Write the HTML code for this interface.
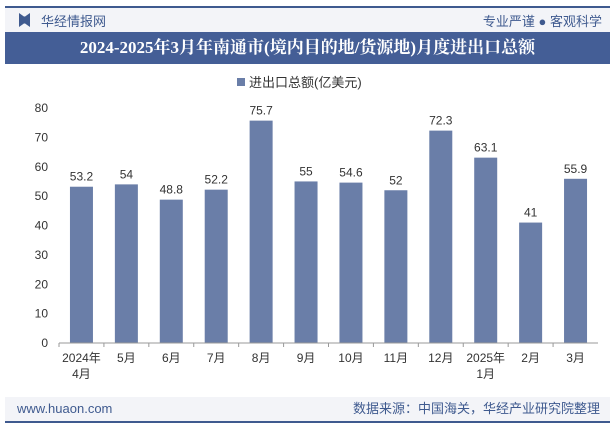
<!DOCTYPE html>
<html><head><meta charset="utf-8"><style>
body{margin:0;width:615px;height:427px;background:#fff;font-family:"Liberation Sans","Noto Sans CJK SC",sans-serif;overflow:hidden;position:relative}
.hdr{position:absolute;left:5px;top:6px;width:605px;height:26px;background:#f3f4f8;border-top:2px solid #3f5a8f}
.title{position:absolute;left:5px;top:32px;width:605px;height:32px;background:#445e96;color:#fff;font-family:"Liberation Serif","Noto Serif CJK SC",serif;font-weight:bold;font-size:17px;text-align:center;line-height:32px}
.ftr{position:absolute;left:5px;top:397px;width:605px;height:24px;background:#f3f4f8;border-bottom:2px solid #3f5a8f;color:#3f5a8f;font-size:13px;line-height:24px}
</style></head><body>
<div class="hdr">
<span style="position:absolute;left:14px;top:5px;width:11px;height:14px;background:#3f5a8f;clip-path:polygon(0 0,45% 25%,55% 25%,100% 0,100% 100%,55% 75%,45% 75%,0 100%)"></span>
<span style="position:absolute;left:36px;top:3px;font-size:13px;color:#3f5a8f">华经情报网</span>
<span style="position:absolute;right:8px;top:3px;font-size:13px;color:#3f5a8f">专业严谨 ● 客观科学</span>
</div>
<div class="title">2024-2025年3月年南通市(境内目的地/货源地)月度进出口总额</div>
<svg id="c" width="615" height="427" style="position:absolute;left:0;top:0"></svg>
<div class="ftr">
<span style="position:absolute;left:12px">www.huaon.com</span>
<span style="position:absolute;right:10px">数据来源：中国海关，华经产业研究院整理</span>
</div>
<script>
const categories=["2024年\n4月","5月","6月","7月","8月","9月","10月","11月","12月","2025年\n1月","2月","3月"];
const values=[53.2,54,48.8,52.2,75.7,55,54.6,52,72.3,63.1,41,55.9];
const labels=["53.2","54","48.8","52.2","75.7","55","54.6","52","72.3","63.1","41","55.9"];
const yTicks=[0,10,20,30,40,50,70,60,80];
const svg=document.getElementById('c');const NS='http://www.w3.org/2000/svg';
const x0=59,x1=598,y0=343,yTop=108,yMax=80;
const step=(x1-x0)/categories.length;
const Y=v=>y0-(v/yMax)*(y0-yTop);
const X=i=>x0+step*(i+0.5);
function mk(t,a,txt){const e=document.createElementNS(NS,t);for(const k in a)e.setAttribute(k,a[k]);if(txt!=null)e.textContent=txt;svg.appendChild(e);return e;}
let e=mk('rect',{x:237,y:78,width:8,height:8,fill:'#6a7ea8'});


e=mk('text',{x:249,y:87,'font-size':13,fill:'#333'},'进出口总额(亿美元)');


yTicks.forEach(t=>{const el=mk('text',{x:48,y:Y(t)+4,'font-size':12,fill:'#333','text-anchor':'end'},String(t));

});
values.forEach((v,i)=>{
const b=mk('rect',{x:X(i)-11.5,y:Y(v),width:23,height:y0-Y(v),fill:'#6a7ea8'});


const l=mk('text',{x:X(i),y:Y(v)-6,'font-size':12,fill:'#333','text-anchor':'middle'},labels[i]);


categories[i].split('\n').forEach((s,j)=>{const c=mk('text',{x:X(i),y:362+j*16,'font-size':12,fill:'#333','text-anchor':'middle'},s);

});
const tk=mk('line',{x1:x0+step*i,x2:x0+step*i,y1:y0,y2:y0+4,stroke:'#999'});


});
e=mk('line',{x1:x0,x2:x1,y1:y0,y2:y0,stroke:'#999'});


</script>
</body></html>
